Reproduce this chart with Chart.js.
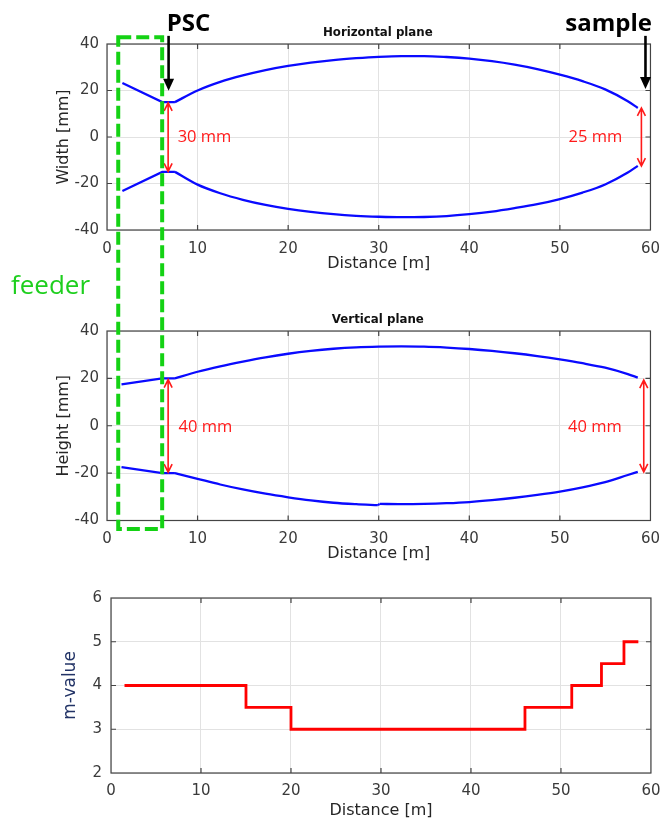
<!DOCTYPE html>
<html><head><meta charset="utf-8">
<script src="https://cdn.jsdelivr.net/npm/chart.js@4.4.0/dist/chart.umd.min.js"></script>
<style>
html,body{margin:0;padding:0;background:#fff;width:670px;height:824px;overflow:hidden}
#wrap{position:relative;width:670px;height:824px}
canvas{position:absolute;left:0}
</style></head><body>
<div id="wrap">
<canvas id="c1" width="670" height="290" style="top:0"></canvas>
<canvas id="c2" width="670" height="290" style="top:290px"></canvas>
<canvas id="c3" width="670" height="244" style="top:580px"></canvas>
<canvas id="ov" width="670" height="824" style="top:0;pointer-events:none"></canvas>
</div>
<script>
// ---- data ----
const xTicks = [0, 10, 20, 30, 40, 50, 60];
const mmTicks = [-40, -20, 0, 20, 40];
const mTicks = [2, 3, 4, 5, 6];

// Horizontal plane (feeder: first 3 points, straight; then smooth envelope)
const hDist  = [1.7, 6.1, 7.5, 10, 12.5, 15, 17.5, 20, 22.5, 25, 27.5, 30, 32.5, 35, 37.5, 40, 42.5, 45, 47.5, 50, 52.5, 55, 57.5, 58.6];
const hUpper = [23.2, 15, 15, 20.0, 23.7, 26.5, 28.8, 30.6, 32.0, 33.1, 33.9, 34.5, 34.8, 34.8, 34.4, 33.7, 32.6, 31.1, 29.2, 26.8, 24.0, 20.5, 15.4, 12.5];
const hLower = [-23.2, -15, -15, -20.5, -24.2, -27.0, -29.2, -30.9, -32.2, -33.2, -33.9, -34.3, -34.5, -34.4, -34.0, -33.2, -32.1, -30.6, -28.9, -26.7, -23.9, -20.4, -15.3, -12.4];

// Vertical plane
const vDist  = [1.6, 6.1, 7.5, 10, 12.5, 15, 17.5, 20, 22.5, 25, 27.5, 30, 32.5, 35, 37.5, 40, 42.5, 45, 47.5, 50, 52.5, 55, 57.5, 58.6];
const vUpper = [17.5, 20, 20, 22.8, 25.1, 27.1, 28.9, 30.4, 31.6, 32.5, 33.1, 33.4, 33.5, 33.4, 33.0, 32.4, 31.6, 30.6, 29.4, 28.0, 26.4, 24.5, 21.8, 20.3];
const vLowDist = [1.6, 6.1, 7.5, 10, 12.5, 15, 17.5, 20, 22.5, 25, 27.5, 29.9, 30.1, 32.5, 35, 37.5, 40, 42.5, 45, 47.5, 50, 52.5, 55, 57.5, 58.6];
const vLower = [-17.5, -20, -20, -22.4, -24.8, -26.9, -28.7, -30.2, -31.5, -32.5, -33.1, -33.5, -33.0, -33.1, -33.0, -32.7, -32.2, -31.4, -30.4, -29.2, -27.8, -26.0, -23.8, -20.8, -19.5];

// m-value steps
const mDist  = [1.5, 15, 20, 46, 51.2, 54.5, 57, 58.6];
const mValue = [4, 3.5, 3, 3.5, 4, 4.5, 5, 5];

// ---- styles ----
const axisFont = '"DejaVu Sans", sans-serif';
const gridColor = '#e2e2e2';
const tickColor = '#3a3a3a';
const titleColor = '#262626';
const blue = '#0a0aff';

const pts = (xs, ys) => xs.map((x, i) => ({x: x, y: ys[i]}));
// a piece of a curve: straight or smooth (monotone cubic)
const piece = (xs, ys, from, to, smooth) => Object.assign({
  data: pts(xs.slice(from, to), ys.slice(from, to)),
  borderColor: blue, borderWidth: 2.3, fill: false
}, smooth ? {cubicInterpolationMode: 'monotone'} : {tension: 0});

const frameBox = {
  id: 'frameBox',
  afterDatasetsDraw(chart) {
    const {ctx, chartArea: a, scales: {x, y}} = chart;
    ctx.save();
    ctx.strokeStyle = '#444';
    ctx.lineWidth = 1.2;
    ctx.strokeRect(a.left, a.top, a.right - a.left, a.bottom - a.top);
    ctx.beginPath();
    x.ticks.forEach(t => {
      const p = x.getPixelForValue(t.value);
      if (p <= a.left + 1 || p >= a.right - 1) return;
      ctx.moveTo(p, a.bottom); ctx.lineTo(p, a.bottom - 5);
      ctx.moveTo(p, a.top); ctx.lineTo(p, a.top + 5);
    });
    y.ticks.forEach(t => {
      const p = y.getPixelForValue(t.value);
      if (p <= a.top + 1 || p >= a.bottom - 1) return;
      ctx.moveTo(a.left, p); ctx.lineTo(a.left + 5, p);
      ctx.moveTo(a.right, p); ctx.lineTo(a.right - 5, p);
    });
    ctx.stroke();
    ctx.restore();
  }
};

function redArrow(ctx, x, y1, y2) {
  ctx.save();
  ctx.strokeStyle = '#ff1a1a'; ctx.lineWidth = 1.6;
  ctx.beginPath();
  ctx.moveTo(x, y1); ctx.lineTo(x, y2);
  ctx.moveTo(x - 4, y1 + 8); ctx.lineTo(x, y1); ctx.lineTo(x + 4, y1 + 8);
  ctx.moveTo(x - 4, y2 - 8); ctx.lineTo(x, y2); ctx.lineTo(x + 4, y2 - 8);
  ctx.stroke();
  ctx.restore();
}
function blackArrow(ctx, x, y1, y2) {
  ctx.save();
  ctx.strokeStyle = '#000'; ctx.fillStyle = '#000'; ctx.lineWidth = 2.6;
  ctx.beginPath(); ctx.moveTo(x, y1); ctx.lineTo(x, y2 - 10); ctx.stroke();
  ctx.beginPath(); ctx.moveTo(x - 5.5, y2 - 12); ctx.lineTo(x + 5.5, y2 - 12); ctx.lineTo(x, y2); ctx.closePath(); ctx.fill();
  ctx.restore();
}
function label(ctx, text, x, y, font, color, align, base) {
  ctx.save();
  ctx.font = font; ctx.fillStyle = color;
  ctx.textAlign = align || 'left'; ctx.textBaseline = base || 'middle';
  ctx.fillText(text, x, y);
  ctx.restore();
}

function makeChart(id, cfg) {
  return new Chart(document.getElementById(id), {
    type: 'line',
    data: { datasets: cfg.datasets },
    options: {
      responsive: false, animation: false, events: [],
      layout: { padding: { top: cfg.top, right: cfg.right, left: 0, bottom: 0 } },
      plugins: { legend: {display: false}, tooltip: {enabled: false}, title: {display: false} },
      elements: { point: { radius: 0 } },
      scales: {
        x: {
          type: 'linear', min: 0, max: 60,
          afterBuildTicks: s => { s.ticks = xTicks.map(v => ({value: v})); },
          afterFit: s => { s.height = cfg.xh; },
          grid: { color: gridColor, lineWidth: 1, drawTicks: false },
          border: { display: false },
          ticks: { padding: cfg.xpad, color: tickColor, font: {family: axisFont, size: 15} },
          title: { display: true, text: 'Distance [m]', color: titleColor,
                   font: {family: axisFont, size: 16}, padding: {top: 0, bottom: cfg.xtpad} }
        },
        y: {
          type: 'linear', min: cfg.ymin, max: cfg.ymax,
          afterBuildTicks: s => { s.ticks = cfg.yTicks.map(v => ({value: v})); },
          afterFit: s => { s.width = cfg.left; },
          grid: { color: gridColor, lineWidth: 1, drawTicks: false },
          border: { display: false },
          ticks: { padding: cfg.ypad, color: tickColor, font: {family: axisFont, size: 15} },
          title: { display: true, text: cfg.yTitle, color: cfg.yTitleColor || titleColor,
                   font: {family: axisFont, size: cfg.ytSize || 16}, padding: {top: cfg.ytpad, bottom: 0} }
        }
      }
    },
    plugins: [frameBox].concat(cfg.extra ? [cfg.extra] : [])
  });
}

const annFont = '16.5px "Open Sans", sans-serif';
const red = '#ff1a1a';

const chart1 = makeChart('c1', {
  top: 44, right: 16, left: 107, xh: 60, xpad: 10, xtpad: 17, ypad: 8, ytpad: 54,
  ymin: -40, ymax: 40, yTicks: mmTicks, yTitle: 'Width [mm]',
  datasets: [
    piece(hDist, hUpper, 0, 3, false), piece(hDist, hUpper, 2, hDist.length, true),
    piece(hDist, hLower, 0, 3, false), piece(hDist, hLower, 2, hDist.length, true)
  ],
  extra: {
    id: 'notes1',
    afterDraw(chart) {
      const {ctx, scales: {x, y}} = chart;
      label(ctx, 'Horizontal plane', x.getPixelForValue(29.9), y.getPixelForValue(44.6), 'bold 11.8px "DejaVu Sans", sans-serif', '#111', 'center');
      redArrow(ctx, x.getPixelForValue(6.75), y.getPixelForValue(14.7), y.getPixelForValue(-14.8));
      label(ctx, '30 mm', x.getPixelForValue(7.8), y.getPixelForValue(0), annFont, red);
      redArrow(ctx, x.getPixelForValue(59.0), y.getPixelForValue(12.5), y.getPixelForValue(-12.5));
      label(ctx, '25 mm', x.getPixelForValue(50.95), y.getPixelForValue(0), annFont, red);
      blackArrow(ctx, x.getPixelForValue(6.8), y.getPixelForValue(43.5), y.getPixelForValue(19.9));
      label(ctx, 'PSC', x.getPixelForValue(6.6), y.getPixelForValue(45.4), 'bold 24px "Open Sans", sans-serif', '#000', 'left', 'alphabetic');
      blackArrow(ctx, x.getPixelForValue(59.45), y.getPixelForValue(43.5), y.getPixelForValue(20.6));
      label(ctx, 'sample', x.getPixelForValue(50.6), y.getPixelForValue(45.8), 'bold 24px "Open Sans", sans-serif', '#000', 'left', 'alphabetic');
    }
  }
});

const chart2 = makeChart('c2', {
  top: 41, right: 16, left: 107, xh: 59.5, xpad: 10, xtpad: 16.5, ypad: 8, ytpad: 54,
  ymin: -40, ymax: 40, yTicks: mmTicks, yTitle: 'Height [mm]',
  datasets: [
    piece(vDist, vUpper, 0, 3, false), piece(vDist, vUpper, 2, vDist.length, true),
    piece(vLowDist, vLower, 0, 3, false), piece(vLowDist, vLower, 2, 12, true),
    piece(vLowDist, vLower, 11, 13, false), piece(vLowDist, vLower, 12, vLowDist.length, true)
  ],
  extra: {
    id: 'notes2',
    afterDraw(chart) {
      const {ctx, scales: {x, y}} = chart;
      label(ctx, 'Vertical plane', x.getPixelForValue(29.9), y.getPixelForValue(44.6), 'bold 11.8px "DejaVu Sans", sans-serif', '#111', 'center');
      redArrow(ctx, x.getPixelForValue(6.75), y.getPixelForValue(19.5), y.getPixelForValue(-19.6));
      label(ctx, '40 mm', x.getPixelForValue(7.9), y.getPixelForValue(-0.5), annFont, red);
      redArrow(ctx, x.getPixelForValue(59.26), y.getPixelForValue(19.3), y.getPixelForValue(-19.5));
      label(ctx, '40 mm', x.getPixelForValue(50.9), y.getPixelForValue(-0.5), annFont, red);
    }
  }
});

const chart3 = makeChart('c3', {
  top: 14, right: 12, left: 111, xh: 51, xpad: 9.5, xtpad: 3.4, ypad: 9, ytpad: 60,
  ymin: 2, ymax: 6, yTicks: mTicks, yTitle: 'm-value', yTitleColor: '#223366', ytSize: 17,
  datasets: [
    { data: pts(mDist, mValue), borderColor: '#ff0000', borderWidth: 2.8, stepped: true, fill: false }
  ]
});

// ---- overlay: feeder box spanning the two top panels ----
(function () {
  const ov = document.getElementById('ov').getContext('2d');
  const x1 = chart1.scales.x.getPixelForValue(1.24);
  const x2 = chart1.scales.x.getPixelForValue(6.09);
  const yTop = chart1.scales.y.getPixelForValue(42.9);
  const yBot = 290 + chart2.scales.y.getPixelForValue(-43.6);
  ov.save();
  ov.strokeStyle = '#14d214';
  ov.lineWidth = 4;
  ov.setLineDash([13, 5]);
  ov.strokeRect(x1, yTop, x2 - x1, yBot - yTop);
  ov.restore();
  label(ov, 'feeder', 11, 294, '26px "Open Sans", sans-serif', '#1ecf1e', 'left', 'alphabetic');
})();
</script>
</body></html>
